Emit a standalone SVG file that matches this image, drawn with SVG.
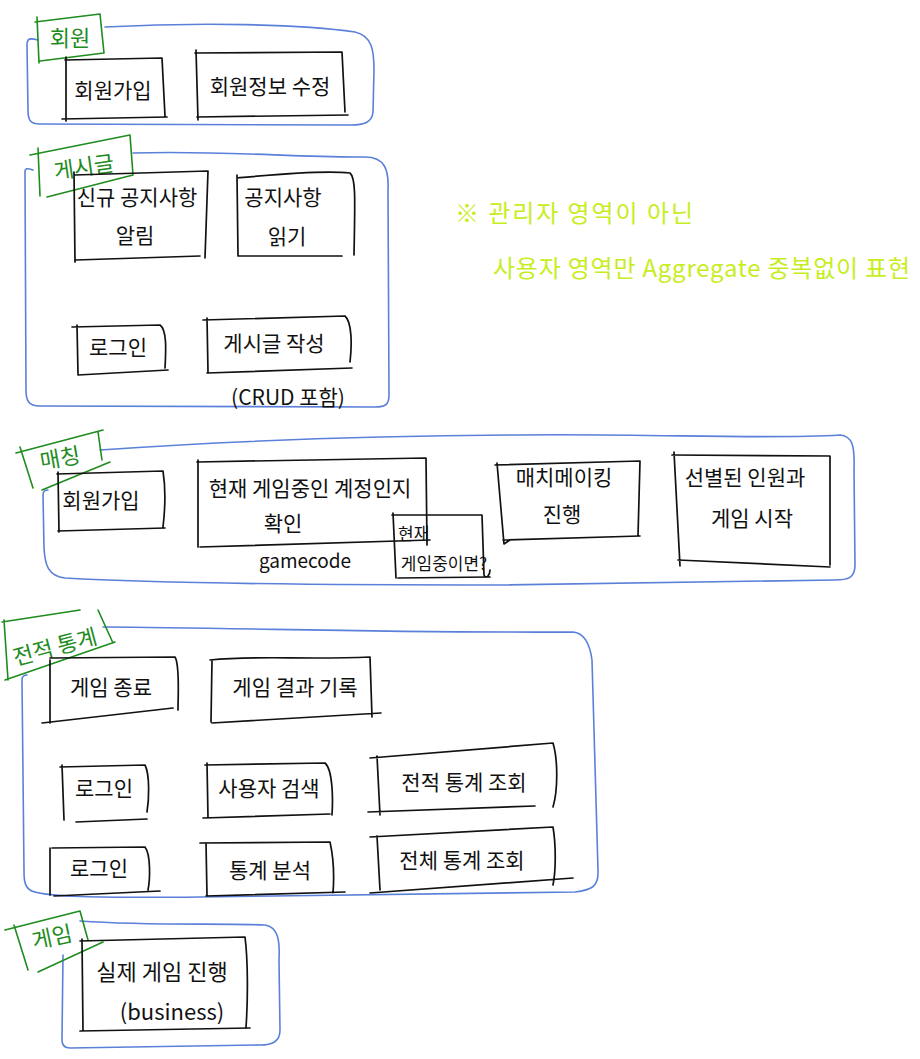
<svg xmlns="http://www.w3.org/2000/svg" width="920" height="1059" viewBox="0 0 920 1059">
<style>
.grp{fill:none;stroke:#5b80d9;stroke-width:1.6;stroke-linejoin:round;stroke-linecap:round}
.lbl{fill:none;stroke:#1e8c1e;stroke-width:1.6;stroke-linecap:round;stroke-linejoin:round}
.lt{fill:#1e8c1e;font-family:"Noto Sans CJK KR",sans-serif;font-size:22px;text-anchor:middle}
.box{fill:none;stroke:#111;stroke-width:1.7;stroke-linecap:round;stroke-linejoin:round}
.t{fill:#111;font-family:"Noto Sans CJK KR",sans-serif;font-size:21px;text-anchor:middle}
.s{font-size:17px}
.note{fill:#c6ee1e;font-family:"Noto Sans CJK KR",sans-serif;font-size:24px}
</style>
<rect width="920" height="1059" fill="#fff"/>

<!-- 회원 -->
<g id="grp-member">
<path class="grp" d="M105,27 C200,22 300,24 355,32 C372,36 374,50 374,70 L373,112 C372,122 365,125 350,125 L40,124 C30,124 28,120 28,110 L27,45 C27,38 30,38 38,40"/>
<path class="lbl" d="M35,22 L100,14 L104,53 L40,61 M37,17 L39,63"/>
<text class="lt" x="70" y="46">회원</text>
</g>
<g id="member-signup">
<path class="box" d="M65,60 L162,58 L165,116 M62,119 L167,117 M66,57 L66,121"/>
<text class="t" x="113" y="98">회원가입</text>
</g>
<g id="member-edit">
<path class="box" d="M195,53 L342,52 L345,112 M197,117 L348,115 M196,50 L198,120"/>
<text class="t" x="270" y="94">회원정보 수정</text>
</g>

<!-- 게시글 -->
<g id="grp-board">
<path class="grp" d="M133,153 C220,150 300,158 365,157 C385,157 389,170 388,190 L389,395 C389,405 385,407 375,407 L40,406 C28,406 26,400 26,390 L25,172 C25,168 27,168 33,170"/>
<path class="lbl" d="M30,155 L130,135 L133,175 L47,197 M38,148 L40,196"/>
<text class="lt" x="84" y="175" transform="rotate(-8 84 167)">게시글</text>
</g>
<g id="board-notice-alert">
<path class="box" d="M74,175 L208,171 L205,258 M76,260 L200,256 M74,172 L75,262"/>
<text class="t" x="137" y="205">신규 공지사항</text>
<text class="t" x="135" y="243">알림</text>
</g>
<g id="board-notice-read">
<path class="box" d="M237,178 C270,175 320,170 350,173 C356,178 355,200 354,255 M238,256 L342,256 M237,175 L238,256"/>
<text class="t" x="283" y="205">공지사항</text>
<text class="t" x="287" y="244">읽기</text>
</g>
<g id="board-login">
<path class="box" d="M72,327 L160,325 C167,330 166,350 165,368 M78,375 L168,370 M77,325 L78,374"/>
<text class="t" x="118" y="355">로그인</text>
</g>
<g id="board-write">
<path class="box" d="M203,320 L345,316 C352,322 352,345 350,362 M207,373 L352,368 M207,318 L208,372"/>
<text class="t" x="274" y="351">게시글 작성</text>
<text class="t" x="288" y="405">(CRUD 포함)</text>
</g>

<!-- note -->
<g id="note">
<text class="note" x="455" y="222" textLength="238" lengthAdjust="spacing">※ 관리자 영역이 아닌</text>
<text class="note" x="493" y="277" textLength="417" lengthAdjust="spacing">사용자 영역만 Aggregate 중복없이 표현</text>
</g>

<!-- 매칭 -->
<g id="grp-matching">
<path class="grp" d="M100,450 C200,443 350,436 510,435 C650,433 760,440 840,435 C852,436 855,445 854,470 L855,565 C855,578 848,580 835,580 L500,585 C300,585 150,583 65,578 C48,576 45,565 44,548 L43,495 C43,492 45,490 48,490"/>
<path class="lbl" d="M16,453 L103,430 M98,432 L102,460 M42,490 L110,462 M20,447 L33,488"/>
<text class="lt" x="60" y="466" transform="rotate(-10 60 458)">매칭</text>
</g>
<g id="match-signup">
<path class="box" d="M57,474 L163,471 C166,490 165,510 163,527 M58,531 L165,528 M58,472 L59,532"/>
<text class="t" x="101" y="508">회원가입</text>
</g>
<g id="match-check">
<path class="box" d="M197,462 L426,458 L427,545 M200,547 L430,540 M198,460 L198,547"/>
<text class="t" x="310" y="496">현재 게임중인 계정인지</text>
<text class="t" x="283" y="531">확인</text>
</g>
<g id="match-ingame">
<path class="box" d="M392,515 L482,515 L484,575 C486,580 490,575 490,570 M398,578 L490,577 M393,513 L396,578"/>
<text class="t s" x="398" y="540" style="text-anchor:start">현재</text>
<text class="t s" x="444" y="570">게임중이면?</text>
</g>
<text class="t" x="305" y="568" style="font-size:19px">gamecode</text>
<g id="match-making">
<path class="box" d="M495,465 L640,461 L638,536 M503,540 L640,536 M497,463 L504,544 L510,540"/>
<text class="t" x="564" y="485">매치메이킹</text>
<text class="t" x="562" y="522">진행</text>
</g>
<g id="match-start">
<path class="box" d="M672,455 L830,456 L830,565 M678,560 L830,567 M674,452 L680,566"/>
<text class="t" x="745" y="485">선별된 인원과</text>
<text class="t" x="752" y="526">게임 시작</text>
</g>

<!-- 전적 통계 -->
<g id="grp-stats">
<path class="grp" d="M103,627 C250,628 400,633 573,632 C585,633 590,645 592,660 L598,870 C599,888 590,890 575,892 L200,897 C100,898 40,897 30,890 C24,886 24,878 24,870 L22,680 C22,676 24,675 27,675"/>
<path class="lbl" d="M2,622 L80,610 M98,610 L113,643 M5,680 L115,642 M4,620 L8,680"/>
<text class="lt" x="55" y="655" transform="rotate(-15 55 647)">전적 통계</text>
</g>
<g id="stats-end">
<path class="box" d="M50,658 L175,657 C180,665 178,695 178,710 M42,723 L173,708 M50,660 L50,723"/>
<text class="t" x="111" y="695">게임 종료</text>
</g>
<g id="stats-record">
<path class="box" d="M210,660 C260,655 300,660 370,657 L372,717 M212,723 L381,713 M212,660 L211,722"/>
<text class="t" x="295" y="695">게임 결과 기록</text>
</g>
<g id="stats-login1">
<path class="box" d="M60,767 L145,765 C150,775 149,800 147,812 M76,822 L147,819 M62,765 L64,820"/>
<text class="t" x="104" y="796">로그인</text>
</g>
<g id="stats-search">
<path class="box" d="M205,765 L325,763 C333,770 333,800 332,815 M203,818 L330,814 M207,763 L208,818"/>
<text class="t" x="269" y="796">사용자 검색</text>
</g>
<g id="stats-my">
<path class="box" d="M370,758 L553,743 C558,760 558,790 553,807 M368,812 L535,806 M377,756 L380,815"/>
<text class="t" x="464" y="790">전적 통계 조회</text>
</g>
<g id="stats-login2">
<path class="box" d="M52,848 L145,847 C151,855 150,880 148,890 M54,896 L160,891 M50,848 L50,895"/>
<text class="t" x="99" y="876">로그인</text>
</g>
<g id="stats-analysis">
<path class="box" d="M200,843 L330,842 C334,860 334,880 333,893 M206,896 L345,892 M206,843 L207,896"/>
<text class="t" x="270" y="878">통계 분석</text>
</g>
<g id="stats-all">
<path class="box" d="M370,837 L553,827 C556,845 556,870 553,885 M370,893 L573,878 M377,836 L380,890"/>
<text class="t" x="462" y="868">전체 통계 조회</text>
</g>

<!-- 게임 -->
<g id="grp-game">
<path class="grp" d="M80,921 C150,926 220,923 265,925 C278,927 280,940 279,960 L280,1030 C280,1042 272,1045 260,1045 L70,1048 C64,1048 62,1045 62,1040 L63,955"/>
<path class="lbl" d="M5,930 L80,911 L88,940 M38,972 L103,942 M14,925 L28,970"/>
<text class="lt" x="52" y="945" transform="rotate(-12 52 937)">게임</text>
</g>
<g id="game-play">
<path class="box" d="M80,941 L245,937 C248,960 248,1000 246,1027 M80,1031 L250,1028 M82,939 L83,1030"/>
<text class="t" x="162" y="980" style="font-size:22px">실제 게임 진행</text>
<text class="t" x="172" y="1020" style="font-size:22px">(business)</text>
</g>

<g id="connectors"></g>
</svg>
